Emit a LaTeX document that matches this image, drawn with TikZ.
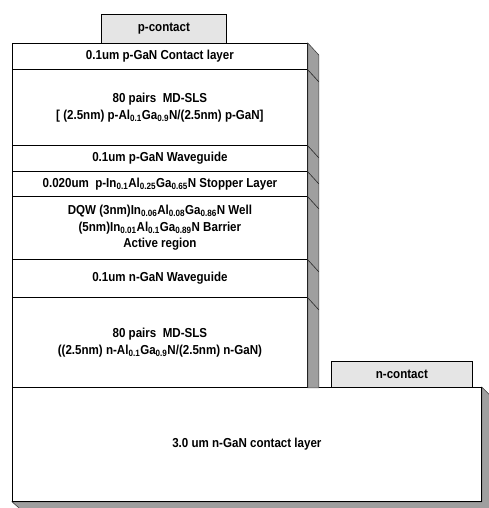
\documentclass[tikz,border=0pt]{standalone}
\usepackage{fontspec}
\setmainfont[FakeStretch=0.89]{Liberation Sans}
\begin{document}
\begin{tikzpicture}[x=1pt, y=-1pt, line width=0.8pt,
  layer/.style={draw, fill=white, anchor=north west, minimum width=295pt,
    inner sep=0pt, align=center, font=\fontsize{13}{16.5}\selectfont\bfseries},
  pad/.style={draw, fill=gray!20, anchor=north west, inner sep=0pt,
    font=\fontsize{13}{16.5}\selectfont\bfseries},
  sideface/.style={fill=gray!75, draw=gray!50!black, line width=0.6pt},
  edge/.style={draw=gray!30!black, line width=0.6pt}]
  \useasboundingbox (0,0) rectangle (489,508);

  % bottom contact layer with its side and bottom faces
  \node[layer, minimum width=469pt, minimum height=114pt] (base) at (12,387)
    {3.0 um n-GaN contact layer};
  \draw[sideface] (base.north east) -- ++(8,8) -- ([shift={(8,7)}]base.south east)
    -- ([shift={(8,7)}]base.south west) -- (base.south west) -- (base.south east) -- cycle;
  \node[layer, minimum width=469pt, minimum height=114pt] at (12,387)
    {3.0 um n-GaN contact layer};

  % stacked layers
  \node[layer, minimum height=26pt] (contact) at (12,43) {0.1um p-GaN Contact layer};
  \node[layer, minimum height=76pt] (psls) at (12,69)
    {80 pairs\ \ MD-SLS\\\relax [ (2.5nm) p-Al\textsubscript{0.1}Ga\textsubscript{0.9}N/(2.5nm) p-GaN]};
  \node[layer, minimum height=26pt] (pwg) at (12,145) {0.1um p-GaN Waveguide};
  \node[layer, minimum height=25pt] (stopper) at (12,171)
    {0.020um\ \ p-In\textsubscript{0.1}Al\textsubscript{0.25}Ga\textsubscript{0.65}N Stopper Layer};
  \node[layer, minimum height=63pt] (dqw) at (12,196)
    {DQW (3nm)In\textsubscript{0.06}Al\textsubscript{0.08}Ga\textsubscript{0.86}N Well\\
     (5nm)In\textsubscript{0.01}Al\textsubscript{0.1}Ga\textsubscript{0.89}N Barrier\\
     Active region};
  \node[layer, minimum height=38pt] (nwg) at (12,259) {0.1um n-GaN Waveguide};
  \node[layer, minimum height=90pt] (nsls) at (12,297)
    {80 pairs\ \ MD-SLS\\
     ((2.5nm) n-Al\textsubscript{0.1}Ga\textsubscript{0.9}N/(2.5nm) n-GaN)};

  % side face of the stack
  \draw[sideface] (contact.north east) -- ++(11,12) -- ([xshift=11pt]nsls.south east)
    -- (nsls.south east) -- cycle;
  \foreach \n in {contact, psls, pwg, stopper, dqw, nwg}
    \draw[edge] (\n.south east) -- ++(11,12);

  % contacts
  \node[pad, minimum width=125pt, minimum height=29pt] (pcontact) at (101,14) {p-contact};
  \node[pad, minimum width=141pt, minimum height=26pt] (ncontact) at (331,361) {n-contact};
\end{tikzpicture}
\end{document}
